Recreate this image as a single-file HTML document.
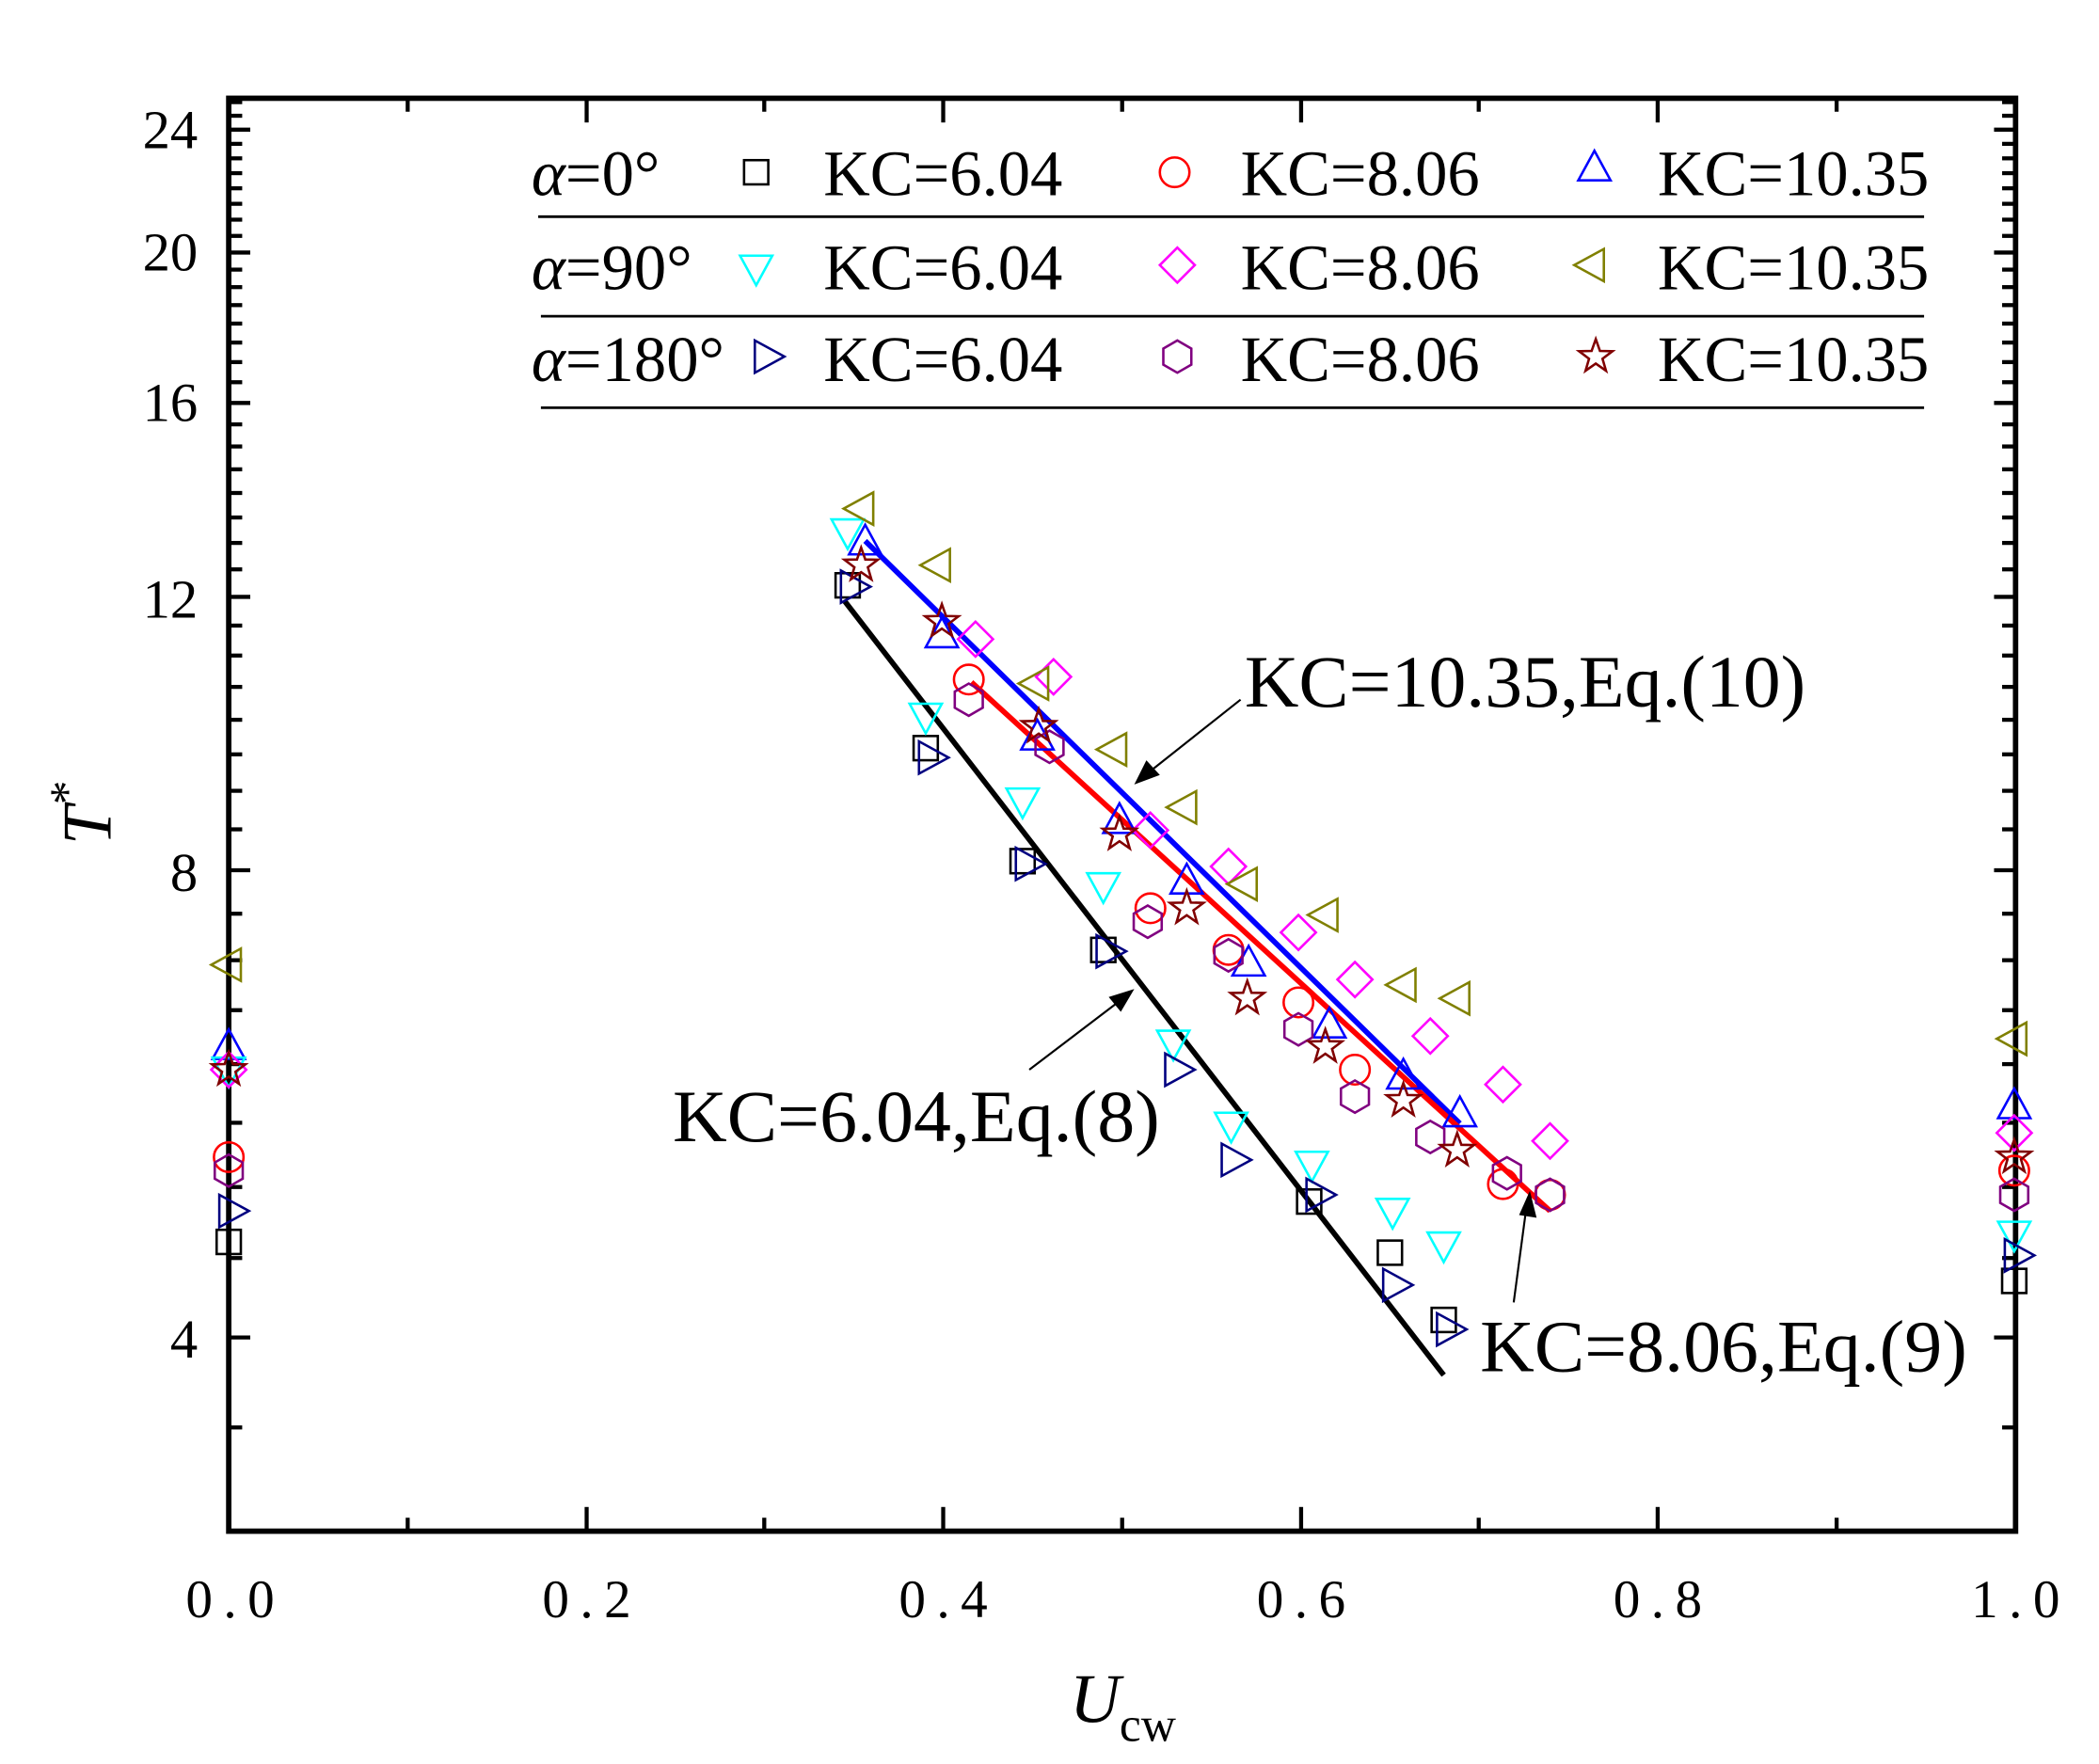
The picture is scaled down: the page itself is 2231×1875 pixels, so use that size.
<!DOCTYPE html>
<html><head><meta charset="utf-8"><style>
html,body{margin:0;padding:0;background:#fff}
svg{display:block}
text{font-family:"Liberation Serif","Noto Serif CJK SC",serif;fill:#000}
</style></head><body>
<svg width="2231" height="1875" viewBox="0 0 1560 1311" xmlns="http://www.w3.org/2000/svg">
<rect width="1560" height="1311" fill="#fff"/>
<defs>
<g id="sq"><rect x="-9" y="-9" width="18" height="18" fill="none" stroke="#000" stroke-width="1.8"/></g>
<g id="ci"><circle r="11" fill="none" stroke="#f00" stroke-width="1.8"/></g>
<g id="tu"><polygon points="0,-13 12,9 -12,9" fill="none" stroke="#00f" stroke-width="1.8"/></g>
<g id="td"><polygon points="0,13 12,-9 -12,-9" fill="none" stroke="#0ff" stroke-width="1.8"/></g>
<g id="di"><polygon points="0,-13 13,0 0,13 -13,0" fill="none" stroke="#f0f" stroke-width="1.8"/></g>
<g id="tl"><polygon points="-13,0 9,-12 9,12" fill="none" stroke="#808000" stroke-width="1.8"/></g>
<g id="tr"><polygon points="13,0 -9,-12 -9,12" fill="none" stroke="#000080" stroke-width="1.8"/></g>
<g id="hx"><polygon points="0,-12 10.4,-6 10.4,6 0,12 -10.4,6 -10.4,-6" fill="none" stroke="#800080" stroke-width="1.8"/></g>
<g id="st"><polygon points="0,-13 3.1,-4.2 12.4,-4 5,1.6 7.6,10.5 0,5.2 -7.6,10.5 -5,1.6 -12.4,-4 -3.1,-4.2" fill="none" stroke="#800000" stroke-width="1.8"/></g>
</defs>

<rect x="170" y="73" width="1328" height="1065" fill="none" stroke="#000" stroke-width="4"/>
<g stroke="#000" stroke-width="3">
<line x1="436" y1="1138" x2="436" y2="1120"/><line x1="701" y1="1138" x2="701" y2="1120"/><line x1="967" y1="1138" x2="967" y2="1120"/><line x1="1232" y1="1138" x2="1232" y2="1120"/>
<line x1="436" y1="73" x2="436" y2="91"/><line x1="701" y1="73" x2="701" y2="91"/><line x1="967" y1="73" x2="967" y2="91"/><line x1="1232" y1="73" x2="1232" y2="91"/>
<line x1="303" y1="1138" x2="303" y2="1128"/><line x1="568" y1="1138" x2="568" y2="1128"/><line x1="834" y1="1138" x2="834" y2="1128"/><line x1="1099" y1="1138" x2="1099" y2="1128"/><line x1="1365" y1="1138" x2="1365" y2="1128"/>
<line x1="303" y1="73" x2="303" y2="83"/><line x1="568" y1="73" x2="568" y2="83"/><line x1="834" y1="73" x2="834" y2="83"/><line x1="1099" y1="73" x2="1099" y2="83"/><line x1="1365" y1="73" x2="1365" y2="83"/>
</g>
<g id="yt" stroke="#000" stroke-width="3"></g>

<g font-size="41" text-anchor="end">
<text x="147" y="110">24</text><text x="147" y="201">20</text><text x="147" y="313">16</text><text x="147" y="459">12</text><text x="147" y="662">8</text><text x="147" y="1009">4</text>
</g>
<g font-size="40" text-anchor="middle" style="letter-spacing:8px">
<text x="175" y="1202">0.0</text><text x="440" y="1202">0.2</text><text x="705" y="1202">0.4</text><text x="971" y="1202">0.6</text><text x="1236" y="1202">0.8</text><text x="1502" y="1202">1.0</text>
</g>
<text x="795" y="1280" font-size="52" font-style="italic">U</text><text x="832" y="1294" font-size="36">cw</text>
<g transform="translate(82,628) rotate(-90)"><text x="0" y="0" font-size="52" font-style="italic">T</text><text x="30" y="-20" font-size="36">*</text></g>

<g font-size="48">
<text x="395" y="145"><tspan font-style="italic">α</tspan>=0°</text>
<text x="395" y="215"><tspan font-style="italic">α</tspan>=90°</text>
<text x="395" y="283"><tspan font-style="italic">α</tspan>=180°</text>
<text x="612" y="145">KC=6.04</text><text x="922" y="145">KC=8.06</text><text x="1232" y="145">KC=10.35</text>
<text x="612" y="215">KC=6.04</text><text x="922" y="215">KC=8.06</text><text x="1232" y="215">KC=10.35</text>
<text x="612" y="283">KC=6.04</text><text x="922" y="283">KC=8.06</text><text x="1232" y="283">KC=10.35</text>
</g>
<g stroke="#000" stroke-width="2"><line x1="400" y1="161" x2="1430" y2="161"/><line x1="402" y1="235" x2="1430" y2="235"/><line x1="402" y1="303" x2="1430" y2="303"/></g>
<use href="#sq" x="562" y="128"/><use href="#ci" x="873" y="128"/><use href="#tu" x="1185" y="125"/>
<use href="#td" x="562" y="199"/><use href="#di" x="875" y="197"/><use href="#tl" x="1183" y="197"/>
<use href="#tr" x="570" y="265"/><use href="#hx" x="875" y="265"/><use href="#st" x="1186" y="265"/>

<line x1="628" y1="447" x2="1073" y2="1022" stroke="#000" stroke-width="4"/>
<line x1="643" y1="402" x2="1085" y2="835" stroke="#00f" stroke-width="4"/>
<line x1="722" y1="507" x2="1152" y2="900" stroke="#f00" stroke-width="4"/>

<g>
<use href="#sq" x="170" y="923"/><use href="#sq" x="630" y="435"/><use href="#sq" x="688" y="556"/><use href="#sq" x="760" y="640"/><use href="#sq" x="820" y="706"/><use href="#sq" x="973" y="893"/><use href="#sq" x="1033" y="931"/><use href="#sq" x="1073" y="981"/><use href="#sq" x="1497" y="952"/>
<use href="#ci" x="170" y="860"/><use href="#ci" x="720" y="505"/><use href="#ci" x="855" y="675"/><use href="#ci" x="913" y="706"/><use href="#ci" x="965" y="745"/><use href="#ci" x="1007" y="795"/><use href="#ci" x="1117" y="880"/><use href="#ci" x="1152" y="888"/><use href="#ci" x="1497" y="870"/>
<use href="#tu" x="170" y="778"/><use href="#tu" x="643" y="403"/><use href="#tu" x="700" y="472"/><use href="#tu" x="771" y="548"/><use href="#tu" x="832" y="610"/><use href="#tu" x="882" y="655"/><use href="#tu" x="928" y="716"/><use href="#tu" x="988" y="762"/><use href="#tu" x="1043" y="800"/><use href="#tu" x="1085" y="828"/><use href="#tu" x="1497" y="822"/>
<use href="#td" x="170" y="795"/><use href="#td" x="630" y="395"/><use href="#td" x="688" y="532"/><use href="#td" x="760" y="595"/><use href="#td" x="820" y="658"/><use href="#td" x="872" y="775"/><use href="#td" x="915" y="836"/><use href="#td" x="975" y="865"/><use href="#td" x="1035" y="900"/><use href="#td" x="1073" y="925"/><use href="#td" x="1497" y="917"/>
<use href="#di" x="170" y="795"/><use href="#di" x="725" y="475"/><use href="#di" x="783" y="503"/><use href="#di" x="855" y="617"/><use href="#di" x="913" y="644"/><use href="#di" x="965" y="693"/><use href="#di" x="1007" y="728"/><use href="#di" x="1063" y="770"/><use href="#di" x="1117" y="806"/><use href="#di" x="1152" y="848"/><use href="#di" x="1497" y="842"/>
<use href="#tl" x="170" y="717"/><use href="#tl" x="640" y="378"/><use href="#tl" x="697" y="420"/><use href="#tl" x="770" y="508"/><use href="#tl" x="828" y="557"/><use href="#tl" x="880" y="600"/><use href="#tl" x="925" y="657"/><use href="#tl" x="985" y="680"/><use href="#tl" x="1043" y="732"/><use href="#tl" x="1083" y="742"/><use href="#tl" x="1497" y="772"/>
<use href="#tr" x="172" y="900"/><use href="#tr" x="634" y="436"/><use href="#tr" x="692" y="563"/><use href="#tr" x="764" y="642"/><use href="#tr" x="824" y="707"/><use href="#tr" x="875" y="795"/><use href="#tr" x="917" y="862"/><use href="#tr" x="980" y="888"/><use href="#tr" x="1037" y="955"/><use href="#tr" x="1077" y="988"/><use href="#tr" x="1499" y="933"/>
<use href="#hx" x="170" y="870"/><use href="#hx" x="720" y="520"/><use href="#hx" x="780" y="555"/><use href="#hx" x="853" y="685"/><use href="#hx" x="913" y="710"/><use href="#hx" x="965" y="765"/><use href="#hx" x="1007" y="815"/><use href="#hx" x="1063" y="845"/><use href="#hx" x="1120" y="872"/><use href="#hx" x="1152" y="888"/><use href="#hx" x="1497" y="888"/>
<use href="#st" x="170" y="795"/><use href="#st" x="640" y="420"/><use href="#st" x="700" y="462"/><use href="#st" x="772" y="540"/><use href="#st" x="832" y="620"/><use href="#st" x="882" y="675"/><use href="#st" x="927" y="742"/><use href="#st" x="985" y="778"/><use href="#st" x="1043" y="818"/><use href="#st" x="1083" y="855"/><use href="#st" x="1497" y="860"/>
</g>

<g font-size="55">
<text x="925" y="525" textLength="417" lengthAdjust="spacingAndGlyphs">KC=10.35,Eq.(10)</text>
<text x="500" y="848" textLength="362" lengthAdjust="spacingAndGlyphs">KC=6.04,Eq.(8)</text>
<text x="1100" y="1019" textLength="362" lengthAdjust="spacingAndGlyphs">KC=8.06,Eq.(9)</text>
</g>
<g stroke="#000" stroke-width="1.5">
<line x1="922" y1="520" x2="850" y2="577"/>
<line x1="765" y1="795" x2="836" y2="741"/>
<line x1="1125" y1="968" x2="1135" y2="893"/>
</g>
<polygon points="843,583 852,565 862,576" fill="#000"/>
<polygon points="843,735 833,752 824,741" fill="#000"/>
<polygon points="1137,885 1142,905 1129,903" fill="#000"/>

<script>
(function(){
var g=document.getElementById('yt');var ns='http://www.w3.org/2000/svg';
function Y(v){return 994-501*Math.log(v/4);}
function tk(y,l){[[170,170+l],[1498,1498-l]].forEach(function(p){var e=document.createElementNS(ns,'line');e.setAttribute('x1',p[0]);e.setAttribute('x2',p[1]);e.setAttribute('y1',y);e.setAttribute('y2',y);g.appendChild(e);});}
for(var v=3;v<=25.01;v+=0.5){var maj=(v%4===0);var y=Y(v);if(y<75||y>1136)continue;tk(y,maj?16:10);}
})();
</script>
</svg>
</body></html>
